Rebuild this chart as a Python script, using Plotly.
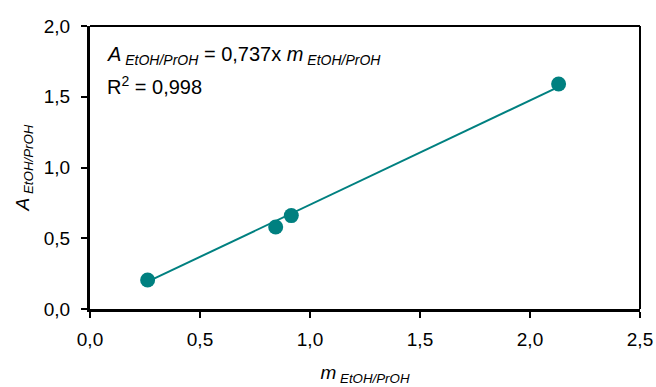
import plotly.graph_objects as go

# Measured ratios (EtOH/PrOH)
m_ratio = [0.262, 0.844, 0.915, 2.13]
a_ratio = [0.205, 0.58, 0.66, 1.59]

# Linear fit through origin
slope = 0.737
r_squared = 0.998

x_ticks = [0.0, 0.5, 1.0, 1.5, 2.0, 2.5]
y_ticks = [0.0, 0.5, 1.0, 1.5, 2.0]

teal = "#008080"
font_family = "Liberation Sans, Arial, sans-serif"

fit_x = [min(m_ratio), max(m_ratio)]
fit_y = [slope * v for v in fit_x]

fig = go.Figure()
fig.add_trace(go.Scatter(x=fit_x, y=fit_y, mode="lines",
                         line=dict(color=teal, width=2), showlegend=False))
fig.add_trace(go.Scatter(x=m_ratio, y=a_ratio, mode="markers",
                         marker=dict(color=teal, size=15), showlegend=False))

def fmt(v):
    return f"{v:.1f}".replace(".", ",")

fig.update_layout(
    width=656, height=387,
    margin=dict(l=90, r=16, t=26, b=78),
    paper_bgcolor="white", plot_bgcolor="white",
    font=dict(family=font_family, size=19, color="black"),
    xaxis=dict(range=[0, 2.5], tickvals=x_ticks, ticktext=[fmt(v) for v in x_ticks],
               tickfont=dict(size=19), automargin=False,
               showgrid=False, zeroline=False, showline=True, linecolor="black",
               linewidth=3, ticks="outside", ticklen=6, tickwidth=2, tickcolor="black",
               ticklabelstandoff=5,
               title=dict(text="<i>m</i><sub><i> EtOH/PrOH</i></sub>",
                          font=dict(size=19), standoff=17)),
    yaxis=dict(range=[0, 2.0], tickvals=y_ticks, ticktext=[fmt(v) for v in y_ticks],
               tickfont=dict(size=19), automargin=False,
               showgrid=False, zeroline=False, showline=True, linecolor="black",
               linewidth=3, ticks="outside", ticklen=6, tickwidth=2, tickcolor="black",
               ticklabelstandoff=7,
               title=dict(text="<i>A</i><sub><i> EtOH/PrOH</i></sub>",
                          font=dict(size=19), standoff=10)),
    shapes=[
        dict(type="line", xref="paper", yref="paper", x0=0, x1=1, y0=1, y1=1,
             line=dict(color="black", width=2)),
        dict(type="line", xref="paper", yref="paper", x0=1, x1=1, y0=0, y1=1,
             line=dict(color="black", width=2)),
    ],
    annotations=[
        dict(xref="paper", yref="paper", x=0.028, y=0.895, xanchor="left", yanchor="middle",
             showarrow=False, align="left", font=dict(size=20),
             text=f"<i>A</i><sub><i> EtOH/PrOH</i></sub> = {str(slope).replace('.', ',')}x "
                  f"<i>m</i><sub><i> EtOH/PrOH</i></sub>"),
        dict(xref="paper", yref="paper", x=0.028, y=0.79, xanchor="left", yanchor="middle",
             showarrow=False, align="left", font=dict(size=20),
             text=f"R<sup>2</sup> = {str(r_squared).replace('.', ',')}"),
    ],
)

fig.write_html("out.html")
